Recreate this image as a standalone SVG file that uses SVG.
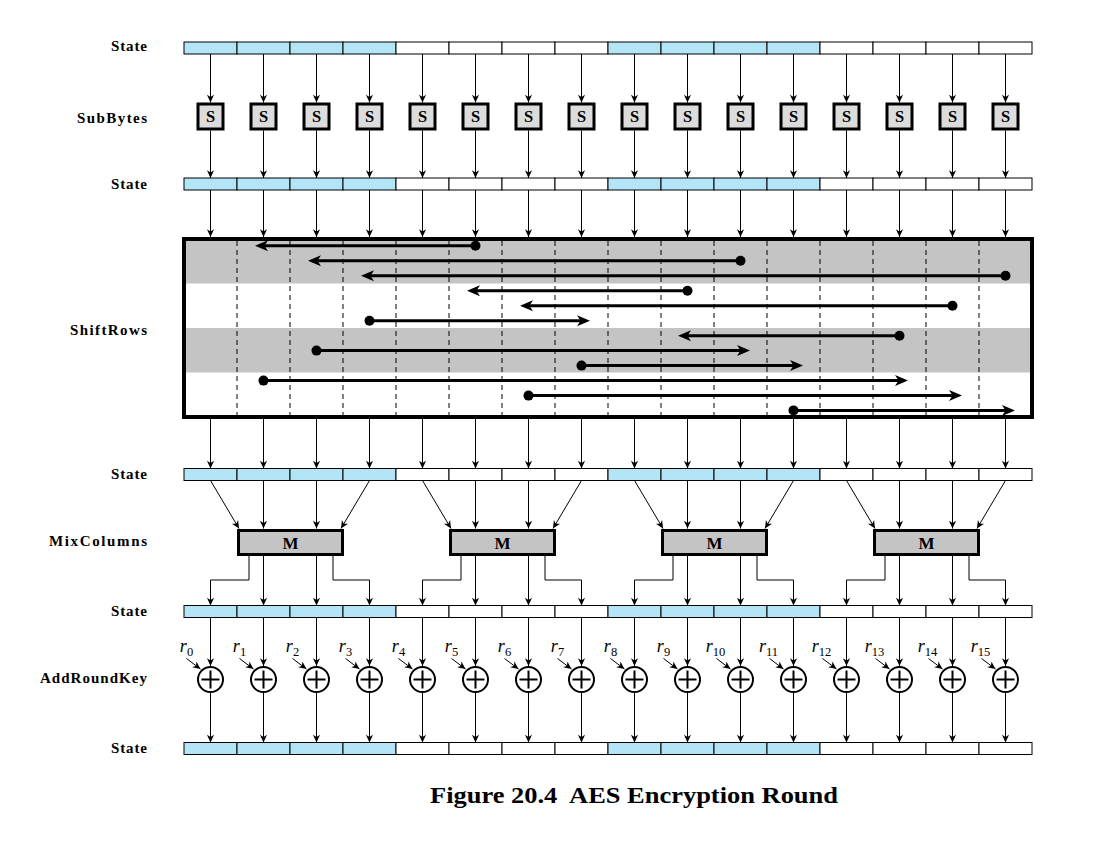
<svg xmlns="http://www.w3.org/2000/svg" xmlns:xlink="http://www.w3.org/1999/xlink" width="1096" height="847" viewBox="0 0 1096 847">
<style>
.lbl{font-family:"Liberation Serif","Times New Roman",Times,serif;font-weight:bold;font-size:15px;text-anchor:end;fill:#000}
.cb{fill:#B3E5F7;stroke:#000;stroke-width:1}
.cw{fill:#fff;stroke:#000;stroke-width:1}
.sbox{fill:#DCDCDC;stroke:#000;stroke-width:3}
.stxt{font-family:"Liberation Serif","Times New Roman",Times,serif;font-weight:bold;font-size:16.5px;text-anchor:middle}
.mbox{fill:#C4C4C4;stroke:#000;stroke-width:3}
.mtxt{font-family:"Liberation Serif","Times New Roman",Times,serif;font-weight:bold;font-size:17px;text-anchor:middle}
.ar{stroke:#000;stroke-width:1;fill:none;marker-end:url(#sa)}
.sr{stroke:#000;stroke-width:3;fill:none;marker-end:url(#ba)}
.dash{stroke:#000;stroke-width:1;stroke-dasharray:5,4}
.xc{fill:#fff;stroke:#000;stroke-width:2}
.xp{stroke:#000;stroke-width:2}
.rl{font-family:"Liberation Serif","Times New Roman",Times,serif;font-style:italic;font-size:18px;text-anchor:middle}
.rs{font-size:12.5px;font-style:normal}
</style>
<defs>
<marker id="sa" markerUnits="userSpaceOnUse" markerWidth="10" markerHeight="10" viewBox="-8 -4 9 8" refX="0" refY="0" orient="auto">
<path d="M0,0 L-7,-3.2 L-5,0 L-7,3.2 Z" fill="#000"/>
</marker>
<marker id="ba" markerUnits="userSpaceOnUse" markerWidth="24" markerHeight="14" viewBox="-6 -7 16 14" refX="0" refY="0" orient="auto">
<path d="M8,0 L-5,-5.5 L-1.5,0 L-5,5.5 Z" fill="#000"/>
</marker>
<g id="statebar">
<rect class="cb" x="184" y="0" width="53" height="12"/><rect class="cb" x="237" y="0" width="53" height="12"/><rect class="cb" x="290" y="0" width="53" height="12"/><rect class="cb" x="343" y="0" width="53" height="12"/>
<rect class="cw" x="396" y="0" width="53" height="12"/><rect class="cw" x="449" y="0" width="53" height="12"/><rect class="cw" x="502" y="0" width="53" height="12"/><rect class="cw" x="555" y="0" width="53" height="12"/>
<rect class="cb" x="608" y="0" width="53" height="12"/><rect class="cb" x="661" y="0" width="53" height="12"/><rect class="cb" x="714" y="0" width="53" height="12"/><rect class="cb" x="767" y="0" width="53" height="12"/>
<rect class="cw" x="820" y="0" width="53" height="12"/><rect class="cw" x="873" y="0" width="53" height="12"/><rect class="cw" x="926" y="0" width="53" height="12"/><rect class="cw" x="979" y="0" width="53" height="12"/>
</g>
<g id="sb"><rect class="sbox" x="-12.5" y="0" width="25" height="25"/><text class="stxt" x="0" y="18">S</text></g>
<g id="xor"><circle class="xc" cx="0" cy="0" r="12.5"/><line class="xp" x1="-9" y1="0" x2="9" y2="0"/><line class="xp" x1="0" y1="-9" x2="0" y2="9"/></g>
<g id="mb"><rect class="mbox" x="238.5" y="530.5" width="104" height="24"/><text class="mtxt" x="290.5" y="549">M</text></g>
</defs>

<g id="labels">
<text class="lbl" x="147" y="51" textLength="36" lengthAdjust="spacing">State</text>
<text class="lbl" x="147" y="122.5" textLength="70" lengthAdjust="spacing">SubBytes</text>
<text class="lbl" x="147" y="189" textLength="36" lengthAdjust="spacing">State</text>
<text class="lbl" x="147" y="334.5" textLength="77" lengthAdjust="spacing">ShiftRows</text>
<text class="lbl" x="147" y="479" textLength="36" lengthAdjust="spacing">State</text>
<text class="lbl" x="147" y="546" textLength="98" lengthAdjust="spacing">MixColumns</text>
<text class="lbl" x="147" y="616" textLength="36" lengthAdjust="spacing">State</text>
<text class="lbl" x="147" y="683" textLength="107" lengthAdjust="spacing">AddRoundKey</text>
<text class="lbl" x="147" y="753" textLength="36" lengthAdjust="spacing">State</text>
</g>

<g id="state1"><use xlink:href="#statebar" y="42"/></g>
<g id="state2"><use xlink:href="#statebar" y="178"/></g>
<g id="state3"><use xlink:href="#statebar" y="468.5"/></g>
<g id="state4"><use xlink:href="#statebar" y="605.5"/></g>
<g id="state5"><use xlink:href="#statebar" y="742.5"/></g>

<g id="subbytes">
<use xlink:href="#sb" x="210.5" y="104"/><use xlink:href="#sb" x="263.5" y="104"/><use xlink:href="#sb" x="316.5" y="104"/><use xlink:href="#sb" x="369.5" y="104"/>
<use xlink:href="#sb" x="422.5" y="104"/><use xlink:href="#sb" x="475.5" y="104"/><use xlink:href="#sb" x="528.5" y="104"/><use xlink:href="#sb" x="581.5" y="104"/>
<use xlink:href="#sb" x="634.5" y="104"/><use xlink:href="#sb" x="687.5" y="104"/><use xlink:href="#sb" x="740.5" y="104"/><use xlink:href="#sb" x="793.5" y="104"/>
<use xlink:href="#sb" x="846.5" y="104"/><use xlink:href="#sb" x="899.5" y="104"/><use xlink:href="#sb" x="952.5" y="104"/><use xlink:href="#sb" x="1005.5" y="104"/>
</g>

<g id="shiftrows">
<rect x="184" y="239" width="848" height="44.5" fill="#C4C4C4"/>
<rect x="184" y="328" width="848" height="44.5" fill="#C4C4C4"/>
<line class="dash" x1="237" y1="241" x2="237" y2="415"/><line class="dash" x1="290" y1="241" x2="290" y2="415"/><line class="dash" x1="343" y1="241" x2="343" y2="415"/><line class="dash" x1="396" y1="241" x2="396" y2="415"/>
<line class="dash" x1="449" y1="241" x2="449" y2="415"/><line class="dash" x1="502" y1="241" x2="502" y2="415"/><line class="dash" x1="555" y1="241" x2="555" y2="415"/><line class="dash" x1="608" y1="241" x2="608" y2="415"/>
<line class="dash" x1="661" y1="241" x2="661" y2="415"/><line class="dash" x1="714" y1="241" x2="714" y2="415"/><line class="dash" x1="767" y1="241" x2="767" y2="415"/><line class="dash" x1="820" y1="241" x2="820" y2="415"/>
<line class="dash" x1="873" y1="241" x2="873" y2="415"/><line class="dash" x1="926" y1="241" x2="926" y2="415"/><line class="dash" x1="979" y1="241" x2="979" y2="415"/>
<rect x="184" y="239" width="848" height="178" fill="none" stroke="#000" stroke-width="4"/>
<g id="sr-arrows">
<line class="sr" x1="475.5" y1="245.7" x2="263" y2="245.7"/><circle cx="475.5" cy="245.7" r="5"/>
<line class="sr" x1="740.5" y1="260.7" x2="316" y2="260.7"/><circle cx="740.5" cy="260.7" r="5"/>
<line class="sr" x1="1005.5" y1="275.7" x2="369" y2="275.7"/><circle cx="1005.5" cy="275.7" r="5"/>
<line class="sr" x1="687.5" y1="290.7" x2="475" y2="290.7"/><circle cx="687.5" cy="290.7" r="5"/>
<line class="sr" x1="952.5" y1="305.7" x2="528" y2="305.7"/><circle cx="952.5" cy="305.7" r="5"/>
<line class="sr" x1="369.5" y1="320.7" x2="582" y2="320.7"/><circle cx="369.5" cy="320.7" r="5"/>
<line class="sr" x1="899.5" y1="335.7" x2="686" y2="335.7"/><circle cx="899.5" cy="335.7" r="5"/>
<line class="sr" x1="316.5" y1="350.6" x2="742" y2="350.6"/><circle cx="316.5" cy="350.6" r="5"/>
<line class="sr" x1="581.5" y1="365.6" x2="795" y2="365.6"/><circle cx="581.5" cy="365.6" r="5"/>
<line class="sr" x1="263.5" y1="380.6" x2="900" y2="380.6"/><circle cx="263.5" cy="380.6" r="5"/>
<line class="sr" x1="528.5" y1="395.6" x2="954" y2="395.6"/><circle cx="528.5" cy="395.6" r="5"/>
<line class="sr" x1="793.5" y1="410.4" x2="1007" y2="410.4"/><circle cx="793.5" cy="410.4" r="5"/>
</g>
</g>

<g id="mixcolumns">
<use xlink:href="#mb"/>
<use xlink:href="#mb" x="212"/>
<use xlink:href="#mb" x="424"/>
<use xlink:href="#mb" x="636"/>
</g>

<g id="addroundkey">
<use xlink:href="#xor" x="210.5" y="679.5"/><use xlink:href="#xor" x="263.5" y="679.5"/><use xlink:href="#xor" x="316.5" y="679.5"/><use xlink:href="#xor" x="369.5" y="679.5"/>
<use xlink:href="#xor" x="422.5" y="679.5"/><use xlink:href="#xor" x="475.5" y="679.5"/><use xlink:href="#xor" x="528.5" y="679.5"/><use xlink:href="#xor" x="581.5" y="679.5"/>
<use xlink:href="#xor" x="634.5" y="679.5"/><use xlink:href="#xor" x="687.5" y="679.5"/><use xlink:href="#xor" x="740.5" y="679.5"/><use xlink:href="#xor" x="793.5" y="679.5"/>
<use xlink:href="#xor" x="846.5" y="679.5"/><use xlink:href="#xor" x="899.5" y="679.5"/><use xlink:href="#xor" x="952.5" y="679.5"/><use xlink:href="#xor" x="1005.5" y="679.5"/>
<g id="rkeys">
<text class="rl" x="186.5" y="652">r<tspan class="rs" dy="3.5">0</tspan></text>
<text class="rl" x="239.5" y="652">r<tspan class="rs" dy="3.5">1</tspan></text>
<text class="rl" x="292.5" y="652">r<tspan class="rs" dy="3.5">2</tspan></text>
<text class="rl" x="345.5" y="652">r<tspan class="rs" dy="3.5">3</tspan></text>
<text class="rl" x="398.5" y="652">r<tspan class="rs" dy="3.5">4</tspan></text>
<text class="rl" x="451.5" y="652">r<tspan class="rs" dy="3.5">5</tspan></text>
<text class="rl" x="504.5" y="652">r<tspan class="rs" dy="3.5">6</tspan></text>
<text class="rl" x="557.5" y="652">r<tspan class="rs" dy="3.5">7</tspan></text>
<text class="rl" x="610.5" y="652">r<tspan class="rs" dy="3.5">8</tspan></text>
<text class="rl" x="663.5" y="652">r<tspan class="rs" dy="3.5">9</tspan></text>
<text class="rl" x="715.5" y="652">r<tspan class="rs" dy="3.5">10</tspan></text>
<text class="rl" x="768.5" y="652">r<tspan class="rs" dy="3.5">11</tspan></text>
<text class="rl" x="821.5" y="652">r<tspan class="rs" dy="3.5">12</tspan></text>
<text class="rl" x="874.5" y="652">r<tspan class="rs" dy="3.5">13</tspan></text>
<text class="rl" x="927.5" y="652">r<tspan class="rs" dy="3.5">14</tspan></text>
<text class="rl" x="980.5" y="652">r<tspan class="rs" dy="3.5">15</tspan></text>
</g>
</g>

<g id="connectors">
<path class="ar" d="M210.5,54V102.5"/><path class="ar" d="M263.5,54V102.5"/><path class="ar" d="M316.5,54V102.5"/><path class="ar" d="M369.5,54V102.5"/>
<path class="ar" d="M422.5,54V102.5"/><path class="ar" d="M475.5,54V102.5"/><path class="ar" d="M528.5,54V102.5"/><path class="ar" d="M581.5,54V102.5"/>
<path class="ar" d="M634.5,54V102.5"/><path class="ar" d="M687.5,54V102.5"/><path class="ar" d="M740.5,54V102.5"/><path class="ar" d="M793.5,54V102.5"/>
<path class="ar" d="M846.5,54V102.5"/><path class="ar" d="M899.5,54V102.5"/><path class="ar" d="M952.5,54V102.5"/><path class="ar" d="M1005.5,54V102.5"/>
<path class="ar" d="M210.5,130.5V178"/><path class="ar" d="M263.5,130.5V178"/><path class="ar" d="M316.5,130.5V178"/><path class="ar" d="M369.5,130.5V178"/>
<path class="ar" d="M422.5,130.5V178"/><path class="ar" d="M475.5,130.5V178"/><path class="ar" d="M528.5,130.5V178"/><path class="ar" d="M581.5,130.5V178"/>
<path class="ar" d="M634.5,130.5V178"/><path class="ar" d="M687.5,130.5V178"/><path class="ar" d="M740.5,130.5V178"/><path class="ar" d="M793.5,130.5V178"/>
<path class="ar" d="M846.5,130.5V178"/><path class="ar" d="M899.5,130.5V178"/><path class="ar" d="M952.5,130.5V178"/><path class="ar" d="M1005.5,130.5V178"/>
<path class="ar" d="M210.5,190V237"/><path class="ar" d="M263.5,190V237"/><path class="ar" d="M316.5,190V237"/><path class="ar" d="M369.5,190V237"/>
<path class="ar" d="M422.5,190V237"/><path class="ar" d="M475.5,190V237"/><path class="ar" d="M528.5,190V237"/><path class="ar" d="M581.5,190V237"/>
<path class="ar" d="M634.5,190V237"/><path class="ar" d="M687.5,190V237"/><path class="ar" d="M740.5,190V237"/><path class="ar" d="M793.5,190V237"/>
<path class="ar" d="M846.5,190V237"/><path class="ar" d="M899.5,190V237"/><path class="ar" d="M952.5,190V237"/><path class="ar" d="M1005.5,190V237"/>
<path class="ar" d="M210.5,419V468.5"/><path class="ar" d="M263.5,419V468.5"/><path class="ar" d="M316.5,419V468.5"/><path class="ar" d="M369.5,419V468.5"/>
<path class="ar" d="M422.5,419V468.5"/><path class="ar" d="M475.5,419V468.5"/><path class="ar" d="M528.5,419V468.5"/><path class="ar" d="M581.5,419V468.5"/>
<path class="ar" d="M634.5,419V468.5"/><path class="ar" d="M687.5,419V468.5"/><path class="ar" d="M740.5,419V468.5"/><path class="ar" d="M793.5,419V468.5"/>
<path class="ar" d="M846.5,419V468.5"/><path class="ar" d="M899.5,419V468.5"/><path class="ar" d="M952.5,419V468.5"/><path class="ar" d="M1005.5,419V468.5"/>
<path class="ar" d="M210.5,480.5L239,528.5"/><path class="ar" d="M263.5,480.5V528.5"/><path class="ar" d="M316.5,480.5V528.5"/><path class="ar" d="M369.5,480.5L341,528.5"/>
<path class="ar" d="M422.5,480.5L451,528.5"/><path class="ar" d="M475.5,480.5V528.5"/><path class="ar" d="M528.5,480.5V528.5"/><path class="ar" d="M581.5,480.5L553,528.5"/>
<path class="ar" d="M634.5,480.5L663,528.5"/><path class="ar" d="M687.5,480.5V528.5"/><path class="ar" d="M740.5,480.5V528.5"/><path class="ar" d="M793.5,480.5L765,528.5"/>
<path class="ar" d="M846.5,480.5L875,528.5"/><path class="ar" d="M899.5,480.5V528.5"/><path class="ar" d="M952.5,480.5V528.5"/><path class="ar" d="M1005.5,480.5L977,528.5"/>
<path class="ar" d="M249,556V580H210.5V605.5"/><path class="ar" d="M263.5,556V605.5"/><path class="ar" d="M316.5,556V605.5"/><path class="ar" d="M333,556V580H369.5V605.5"/>
<path class="ar" d="M461,556V580H422.5V605.5"/><path class="ar" d="M475.5,556V605.5"/><path class="ar" d="M528.5,556V605.5"/><path class="ar" d="M545,556V580H581.5V605.5"/>
<path class="ar" d="M673,556V580H634.5V605.5"/><path class="ar" d="M687.5,556V605.5"/><path class="ar" d="M740.5,556V605.5"/><path class="ar" d="M757,556V580H793.5V605.5"/>
<path class="ar" d="M885,556V580H846.5V605.5"/><path class="ar" d="M899.5,556V605.5"/><path class="ar" d="M952.5,556V605.5"/><path class="ar" d="M969,556V580H1005.5V605.5"/>
<path class="ar" d="M210.5,617.5V666"/><path class="ar" d="M263.5,617.5V666"/><path class="ar" d="M316.5,617.5V666"/><path class="ar" d="M369.5,617.5V666"/>
<path class="ar" d="M422.5,617.5V666"/><path class="ar" d="M475.5,617.5V666"/><path class="ar" d="M528.5,617.5V666"/><path class="ar" d="M581.5,617.5V666"/>
<path class="ar" d="M634.5,617.5V666"/><path class="ar" d="M687.5,617.5V666"/><path class="ar" d="M740.5,617.5V666"/><path class="ar" d="M793.5,617.5V666"/>
<path class="ar" d="M846.5,617.5V666"/><path class="ar" d="M899.5,617.5V666"/><path class="ar" d="M952.5,617.5V666"/><path class="ar" d="M1005.5,617.5V666"/>
<path class="ar" d="M210.5,693V742.5"/><path class="ar" d="M263.5,693V742.5"/><path class="ar" d="M316.5,693V742.5"/><path class="ar" d="M369.5,693V742.5"/>
<path class="ar" d="M422.5,693V742.5"/><path class="ar" d="M475.5,693V742.5"/><path class="ar" d="M528.5,693V742.5"/><path class="ar" d="M581.5,693V742.5"/>
<path class="ar" d="M634.5,693V742.5"/><path class="ar" d="M687.5,693V742.5"/><path class="ar" d="M740.5,693V742.5"/><path class="ar" d="M793.5,693V742.5"/>
<path class="ar" d="M846.5,693V742.5"/><path class="ar" d="M899.5,693V742.5"/><path class="ar" d="M952.5,693V742.5"/><path class="ar" d="M1005.5,693V742.5"/>
<path class="ar" d="M186.5,658.5L200.5,669"/><path class="ar" d="M239.5,658.5L253.5,669"/><path class="ar" d="M292.5,658.5L306.5,669"/><path class="ar" d="M345.5,658.5L359.5,669"/>
<path class="ar" d="M398.5,658.5L412.5,669"/><path class="ar" d="M451.5,658.5L465.5,669"/><path class="ar" d="M504.5,658.5L518.5,669"/><path class="ar" d="M557.5,658.5L571.5,669"/>
<path class="ar" d="M610.5,658.5L624.5,669"/><path class="ar" d="M663.5,658.5L677.5,669"/><path class="ar" d="M716.5,658.5L730.5,669"/><path class="ar" d="M769.5,658.5L783.5,669"/>
<path class="ar" d="M822.5,658.5L836.5,669"/><path class="ar" d="M875.5,658.5L889.5,669"/><path class="ar" d="M928.5,658.5L942.5,669"/><path class="ar" d="M981.5,658.5L995.5,669"/>
</g>

<text id="caption" x="634" y="803" xml:space="preserve" text-anchor="middle" textLength="408" lengthAdjust="spacingAndGlyphs" font-family="'Liberation Serif','Times New Roman',Times,serif" font-weight="bold" font-size="24">Figure 20.4  AES Encryption Round</text>
</svg>
